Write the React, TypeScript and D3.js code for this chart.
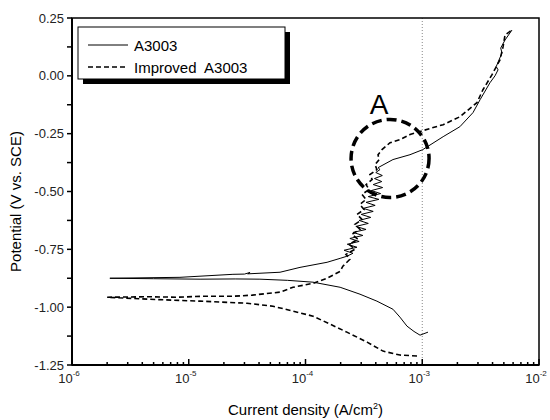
import React from "react";
import * as d3 from "d3";

// ---- Data (current density A/cm², potential V vs SCE) ----
const a3003Cathodic: [number, number][] = [
  [2.11e-6, -0.875], [5.0e-6, -0.877], [1.25e-5, -0.879], [2.5e-5, -0.878], [4.07e-5, -0.879],
  [7.0e-5, -0.884], [1.16e-4, -0.892], [1.98e-4, -0.914], [2.93e-4, -0.944], [4.09e-4, -0.974],
  [5.61e-4, -1.009], [6.44e-4, -1.043], [7.4e-4, -1.082], [8.5e-4, -1.105], [9.57e-4, -1.121],
  [1.12e-3, -1.108],
];
const a3003Anodic: [number, number][] = [
  [2.11e-6, -0.875], [8.41e-6, -0.871], [2.39e-5, -0.858], [3.0e-5, -0.857], [3.35e-5, -0.850],
  [3.2e-5, -0.856], [6.05e-5, -0.849], [8.97e-5, -0.828], [1.53e-4, -0.806], [1.98e-4, -0.789],
  [2.26e-4, -0.780], [2.55e-4, -0.767], [2.14e-4, -0.754], [2.76e-4, -0.741], [2.28e-4, -0.728],
  [2.88e-4, -0.716], [2.4e-4, -0.703], [3.1e-4, -0.69], [2.55e-4, -0.677], [3.3e-4, -0.664],
  [2.7e-4, -0.651], [3.45e-4, -0.638], [2.88e-4, -0.625], [3.62e-4, -0.612], [3.0e-4, -0.599],
  [3.8e-4, -0.586], [3.12e-4, -0.573], [3.95e-4, -0.56], [3.3e-4, -0.547], [4.25e-4, -0.534],
  [3.45e-4, -0.522], [4.4e-4, -0.509], [3.66e-4, -0.496], [4.58e-4, -0.483], [3.8e-4, -0.47],
  [4.5e-4, -0.457], [3.9e-4, -0.444], [4.55e-4, -0.431], [4.0e-4, -0.418], [4.35e-4, -0.405],
  [4.18e-4, -0.397], [5.61e-4, -0.362], [7.85e-4, -0.341], [1.01e-3, -0.319], [1.51e-3, -0.263],
  [2.1e-3, -0.22], [2.72e-3, -0.159], [3.13e-3, -0.103], [3.8e-3, -0.03], [4.2e-3, 0.0],
  [4.46e-3, 0.026], [4.3e-3, 0.04], [4.82e-3, 0.099], [4.7e-3, 0.12], [5.12e-3, 0.155],
  [5.87e-3, 0.198],
];
const improvedCathodic: [number, number][] = [
  [2.0e-6, -0.957], [4.66e-6, -0.966], [1.25e-5, -0.974], [3.16e-5, -0.983], [5.27e-5, -0.996],
  [7.82e-5, -1.017], [1.16e-4, -1.039], [1.62e-4, -1.073], [2.26e-4, -1.108], [3.37e-4, -1.151],
  [4.61e-4, -1.19], [6.44e-4, -1.207], [9.02e-4, -1.211],
];
const improvedAnodic: [number, number][] = [
  [2.0e-6, -0.957], [4.5e-6, -0.955], [8.0e-6, -0.957], [1.3e-5, -0.953], [2.39e-5, -0.953],
  [3.5e-5, -0.948], [6.05e-5, -0.935], [7.82e-5, -0.914], [1.16e-4, -0.897], [1.53e-4, -0.875],
  [1.98e-4, -0.845], [2.09e-4, -0.823], [2.4e-4, -0.793], [2.22e-4, -0.772], [2.65e-4, -0.75],
  [2.36e-4, -0.728], [2.82e-4, -0.707], [2.5e-4, -0.685], [2.93e-4, -0.664], [2.65e-4, -0.642],
  [3.05e-4, -0.621], [2.76e-4, -0.599], [3.17e-4, -0.578], [2.93e-4, -0.556], [3.3e-4, -0.534],
  [3.05e-4, -0.513], [3.5e-4, -0.491], [3.3e-4, -0.47], [3.72e-4, -0.448], [3.56e-4, -0.427],
  [4.09e-4, -0.405], [3.94e-4, -0.384], [4.27e-4, -0.362], [4.18e-4, -0.341], [4.52e-4, -0.319],
  [5.3e-4, -0.289], [6.44e-4, -0.276], [7.85e-4, -0.254], [1.01e-3, -0.237], [1.51e-3, -0.211],
  [2.1e-3, -0.177], [2.94e-3, -0.116], [3.31e-3, -0.06], [3.95e-3, 0.004], [4.63e-3, 0.069],
  [4.92e-3, 0.125], [5.12e-3, 0.177], [5.87e-3, 0.198],
];

const xMajorTicks = [1e-6, 1e-5, 1e-4, 1e-3, 1e-2];
const xTickExponents = ["-6", "-5", "-4", "-3", "-2"];
const yTicks = [0.25, 0.0, -0.25, -0.5, -0.75, -1.0, -1.25];
const yTickLabels = ["0.25", "0.00", "-0.25", "-0.50", "-0.75", "-1.00", "-1.25"];
const legendLabels = ["A3003", "Improved  A3003"];
const markerCurrent = 1e-3;
const circleCenter: [number, number] = [5.3e-4, -0.357];
const circleLabel = "A";

const W = 550, H = 420;
const M = { left: 72, top: 18, right: 539, bottom: 365 };
const FONT = "Arial, 'Liberation Sans', sans-serif";

export default function App() {
  const x = d3.scaleLog().domain([1e-6, 1e-2]).range([M.left, M.right]);
  const y = d3.scaleLinear().domain([-1.25, 0.25]).range([M.bottom, M.top]);
  const line = d3.line<[number, number]>().x((d) => x(d[0])).y((d) => y(d[1]));

  const minorX: number[] = [];
  for (let e = -6; e < -2; e++) for (let k = 2; k <= 9; k++) minorX.push(k * Math.pow(10, e));
  const minorY: number[] = [];
  for (let i = 0; i < yTicks.length - 1; i++) minorY.push((yTicks[i] + yTicks[i + 1]) / 2);

  const solidPath = line([...a3003Cathodic].reverse().concat(a3003Anodic));
  const dashPath = line([...improvedCathodic].reverse().concat(improvedAnodic));

  const cx = x(circleCenter[0]);
  const cy = y(circleCenter[1]);

  return (
    <svg width={W} height={H} style={{ position: "absolute", left: 0, top: 0, background: "#fff" }} fontFamily={FONT}>
      <rect x={0} y={0} width={W} height={H} fill="#fff" />
      {/* marker line at 1e-3 */}
      <line x1={x(markerCurrent)} x2={x(markerCurrent)} y1={M.top} y2={M.bottom} stroke="#888" strokeWidth={1} strokeDasharray="1,2" />
      {/* curves */}
      <path d={solidPath || ""} fill="none" stroke="#000" strokeWidth={1} strokeLinejoin="round" />
      <path d={dashPath || ""} fill="none" stroke="#000" strokeWidth={1.6} strokeDasharray="5,3" />
      {/* circle A */}
      <circle cx={cx} cy={cy} r={39} fill="none" stroke="#000" strokeWidth={3.5} strokeDasharray="10,5" />
      <text x={cx - 11} y={cy - 44} fontSize={28} textAnchor="middle" fill="#000">{circleLabel}</text>
      {/* frame */}
      <rect x={M.left} y={M.top} width={M.right - M.left} height={M.bottom - M.top} fill="none" stroke="#000" strokeWidth={1.5} />
      <line x1={M.left} x2={M.left} y1={M.top} y2={M.bottom} stroke="#000" strokeWidth={2} />
      <line x1={M.left} x2={M.right} y1={M.bottom} y2={M.bottom} stroke="#000" strokeWidth={2} />
      {/* y ticks */}
      {yTicks.map((t, i) => (
        <g key={"y" + i}>
          <line x1={M.left - 5} x2={M.left} y1={y(t)} y2={y(t)} stroke="#000" strokeWidth={1.5} />
          <text x={M.left - 8} y={y(t) + 4.5} fontSize={13} textAnchor="end" fill="#222">{yTickLabels[i]}</text>
        </g>
      ))}
      {minorY.map((t, i) => (
        <line key={"ym" + i} x1={M.left - 5} x2={M.left} y1={y(t)} y2={y(t)} stroke="#000" strokeWidth={1.5} />
      ))}
      {/* x ticks */}
      {xMajorTicks.map((t, i) => (
        <g key={"x" + i}>
          <line x1={x(t)} x2={x(t)} y1={M.bottom} y2={M.bottom - 6} stroke="#000" strokeWidth={1.5} />
          <text x={x(t) - 3} y={383} fontSize={13} textAnchor="middle" fill="#222">
            10
            <tspan fontSize={8} dy={-7}>{xTickExponents[i]}</tspan>
          </text>
        </g>
      ))}
      {minorX.map((t, i) => (
        <line key={"xm" + i} x1={x(t)} x2={x(t)} y1={M.bottom} y2={M.bottom - 3} stroke="#000" strokeWidth={1.5} />
      ))}
      {/* axis titles */}
      <text x={(M.left + M.right) / 2} y={415} fontSize={15} textAnchor="middle" fill="#000">
        Current density (A/cm<tspan fontSize={9} dy={-6}>2</tspan><tspan dy={6}>)</tspan>
      </text>
      <text transform={`translate(21, ${(M.top + M.bottom) / 2 + 10}) rotate(-90)`} fontSize={15} textAnchor="middle" fill="#000">
        Potential (V vs. SCE)
      </text>
      {/* legend */}
      <rect x={83} y={32} width={207} height={52} fill="#000" />
      <rect x={78} y={27} width={207} height={52} fill="#fff" stroke="#000" strokeWidth={1} />
      <line x1={88} x2={128} y1={45} y2={45} stroke="#000" strokeWidth={1} />
      <line x1={88} x2={128} y1={67} y2={67} stroke="#000" strokeWidth={1.6} strokeDasharray="5,3" />
      <text x={134} y={50.5} fontSize={15} fill="#000">{legendLabels[0]}</text>
      <text x={134} y={72.5} fontSize={15} fill="#000" style={{ whiteSpace: "pre" }}>{legendLabels[1]}</text>
    </svg>
  );
}
